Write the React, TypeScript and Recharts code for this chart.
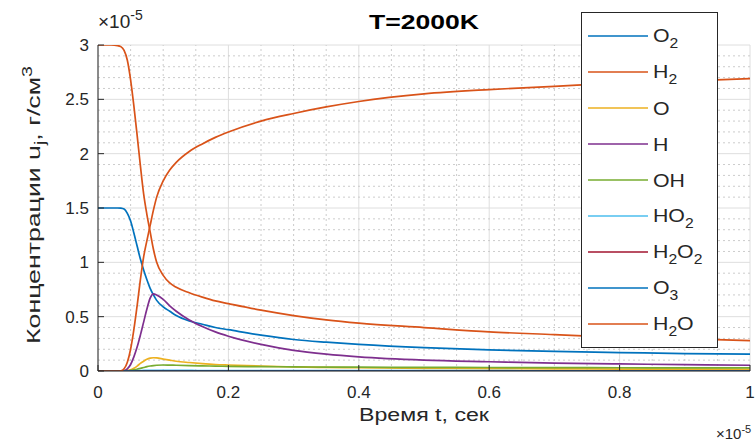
import React from 'react';
import { LineChart, Line, XAxis, YAxis, CartesianGrid, ReferenceLine, Legend } from 'recharts';

// Time, units of 1e-5 s
const time = [0, 0.01, 0.02, 0.03, 0.035, 0.04, 0.045, 0.05, 0.055, 0.06, 0.065, 0.07, 0.075, 0.08, 0.085, 0.09, 0.1, 0.11, 0.12, 0.14, 0.16, 0.18, 0.2, 0.25, 0.3, 0.35, 0.4, 0.5, 0.6, 0.7, 0.8, 0.9, 1.0];

// Concentrations, units of 1e-5 g/cm^3
const o2 = [1.5, 1.5, 1.5, 1.5, 1.498, 1.49, 1.45, 1.38, 1.27, 1.15, 1.03, 0.93, 0.84, 0.76, 0.7, 0.65, 0.59, 0.55, 0.51, 0.46, 0.43, 0.4, 0.38, 0.33, 0.29, 0.265, 0.245, 0.215, 0.195, 0.18, 0.17, 0.16, 0.155];
const h2 = [3.0, 3.0, 3.0, 2.995, 2.985, 2.95, 2.86, 2.68, 2.44, 2.17, 1.89, 1.63, 1.44, 1.28, 1.12, 1.0, 0.88, 0.81, 0.77, 0.72, 0.68, 0.645, 0.62, 0.56, 0.51, 0.47, 0.44, 0.4, 0.36, 0.335, 0.31, 0.295, 0.28];
const o = [0, 0, 0, 0, 0, 0, 0.003, 0.01, 0.025, 0.045, 0.07, 0.09, 0.108, 0.118, 0.122, 0.12, 0.11, 0.1, 0.09, 0.078, 0.068, 0.06, 0.055, 0.045, 0.038, 0.033, 0.03, 0.025, 0.022, 0.02, 0.018, 0.017, 0.016];
const h = [0, 0, 0, 0, 0, 0.003, 0.02, 0.06, 0.13, 0.22, 0.33, 0.45, 0.57, 0.67, 0.71, 0.7, 0.66, 0.6, 0.55, 0.47, 0.41, 0.36, 0.32, 0.245, 0.19, 0.155, 0.13, 0.1, 0.085, 0.072, 0.065, 0.058, 0.053];
const oh = [0, 0, 0, 0, 0, 0, 0.001, 0.005, 0.01, 0.016, 0.024, 0.032, 0.04, 0.046, 0.05, 0.053, 0.055, 0.054, 0.053, 0.05, 0.047, 0.045, 0.043, 0.04, 0.038, 0.036, 0.035, 0.033, 0.032, 0.031, 0.03, 0.029, 0.029];
const ho2 = [0, 0, 0, 0, 0, 0, 0, 0.001, 0.002, 0.003, 0.004, 0.005, 0.006, 0.006, 0.006, 0.006, 0.006, 0.005, 0.005, 0.005, 0.004, 0.004, 0.004, 0.004, 0.003, 0.003, 0.003, 0.003, 0.003, 0.002, 0.002, 0.002, 0.002];
const h2o2 = [0, 0, 0, 0, 0, 0, 0, 0, 0, 0.001, 0.001, 0.001, 0.001, 0.001, 0.001, 0.001, 0.001, 0.001, 0.001, 0.001, 0.001, 0.001, 0.001, 0.001, 0.001, 0.001, 0.001, 0.001, 0.001, 0.001, 0.001, 0.001, 0.001];
const o3 = [0, 0, 0, 0, 0, 0, 0, 0, 0, 0, 0, 0, 0, 0, 0, 0, 0, 0, 0, 0, 0, 0, 0, 0, 0, 0, 0, 0, 0, 0, 0, 0, 0];
const h2o = [0, 0, 0, 0, 0.002, 0.02, 0.08, 0.2, 0.38, 0.6, 0.84, 1.05, 1.2, 1.34, 1.48, 1.6, 1.75, 1.85, 1.92, 2.02, 2.09, 2.15, 2.2, 2.3, 2.37, 2.43, 2.48, 2.55, 2.59, 2.62, 2.65, 2.67, 2.69];

const seriesNames = ['O2', 'H2', 'O', 'H', 'OH', 'HO2', 'H2O2', 'O3', 'H2O'];
const seriesValues = [o2, h2, o, h, oh, ho2, h2o2, o3, h2o];
const seriesColors = ['#0072BD', '#D95319', '#EDB120', '#7E2F8E', '#77AC30', '#4DBEEE', '#A2142F', '#0072BD', '#D95319'];

const xTicks = [0, 0.2, 0.4, 0.6, 0.8, 1];
const yTicks = [0, 0.5, 1, 1.5, 2, 2.5, 3];
const xMinor = [0.05, 0.1, 0.15, 0.25, 0.3, 0.35, 0.45, 0.5, 0.55, 0.65, 0.7, 0.75, 0.85, 0.9, 0.95];
const yMinor = [0.1, 0.2, 0.3, 0.4, 0.6, 0.7, 0.8, 0.9, 1.1, 1.2, 1.3, 1.4, 1.6, 1.7, 1.8, 1.9, 2.1, 2.2, 2.3, 2.4, 2.6, 2.7, 2.8, 2.9];

const title = 'T=2000K';
const xLabel = 'Время t, сек';

const rows = time.map((t, i) => {
  const row: Record<string, number> = { t };
  seriesNames.forEach((name, k) => {
    row[name] = seriesValues[k][i];
  });
  return row;
});

const FONT = '"Liberation Sans", Arial, Helvetica, sans-serif';
const TEXT = '#262626';
const TICK_FS = 17;

// Plot frame (pixels inside the chart surface)
const W = 755;
const H = 444;
const M = { top: 45, right: 5, bottom: 43, left: 0 };
const Y_AXIS_W = 98;
const X_AXIS_H = 30;
const PLOT_L = M.left + Y_AXIS_W;
const PLOT_R = W - M.right;
const PLOT_T = M.top;
const PLOT_B = H - M.bottom - X_AXIS_H;

// Chemical formula with subscripted digits
const Formula = ({ text }: { text: string }) => {
  const parts = text.split(/(\d+)/).filter((p) => p.length > 0);
  return (
    <span style={{ display: 'inline-block', transform: 'scaleX(1.12)', transformOrigin: 'left center' }}>
      {parts.map((p, i) =>
        /\d/.test(p) ? (
          <span key={i} style={{ fontSize: 14, position: 'relative', top: 6 }}>{p}</span>
        ) : (
          <span key={i}>{p}</span>
        )
      )}
    </span>
  );
};

const fmt = (v: number) => String(v);

const XTick = (props: any) => {
  const { x, y, payload } = props;
  return (
    <g>
      <line x1={x} y1={y} x2={x} y2={y - 6} stroke={TEXT} strokeWidth={1} />
      <text x={x} y={y + 27} textAnchor="middle" fontSize={TICK_FS} fontFamily={FONT} fill={TEXT}>
        {fmt(payload.value)}
      </text>
    </g>
  );
};

const YTick = (props: any) => {
  const { x, y, payload } = props;
  return (
    <g>
      <line x1={x} y1={y} x2={x + 6} y2={y} stroke={TEXT} strokeWidth={1} />
      <text x={x - 9} y={y + 6} textAnchor="end" fontSize={TICK_FS} fontFamily={FONT} fill={TEXT}>
        {fmt(payload.value)}
      </text>
    </g>
  );
};

const LegendBox = () => (
  <div
    style={{
      width: 137,
      height: 336,
      boxSizing: 'border-box',
      border: '1.5px solid #262626',
      background: '#ffffff',
      paddingTop: 5,
      fontFamily: FONT,
      fontSize: 19,
      color: TEXT,
    }}
  >
    {seriesNames.map((name, i) => (
      <div key={name} style={{ height: 36, display: 'flex', alignItems: 'center', lineHeight: '19px' }}>
        <svg width={65} height={10} style={{ flex: 'none', marginLeft: 6 }}>
          <line x1={0} y1={5} x2={60} y2={5} stroke={seriesColors[i]} strokeWidth={1.6} />
        </svg>
        <Formula text={name} />
      </div>
    ))}
  </div>
);

export default function App() {
  return (
    <div style={{ position: 'absolute', left: 0, top: 0, background: '#ffffff' }}>
      <LineChart width={W} height={H} data={rows} margin={M}>
        <CartesianGrid stroke="#dedede" strokeWidth={1} />
        {xMinor.map((v) => (
          <ReferenceLine key={'vx' + v} x={v} stroke="#cccccc" strokeDasharray="2 3" strokeWidth={1} ifOverflow="hidden" />
        ))}
        {yMinor.map((v) => (
          <ReferenceLine key={'hy' + v} y={v} stroke="#cccccc" strokeDasharray="2 3" strokeWidth={1} ifOverflow="hidden" />
        ))}
        <XAxis
          dataKey="t"
          type="number"
          domain={[0, 1]}
          ticks={xTicks}
          height={X_AXIS_H}
          tickSize={0}
          tickMargin={0}
          tickLine={false}
          tick={<XTick />}
          axisLine={{ stroke: TEXT, strokeWidth: 1 }}
          allowDataOverflow
        />
        <YAxis
          type="number"
          domain={[0, 3]}
          ticks={yTicks}
          width={Y_AXIS_W}
          tickSize={0}
          tickMargin={0}
          tickLine={false}
          tick={<YTick />}
          axisLine={{ stroke: TEXT, strokeWidth: 1 }}
          allowDataOverflow
        />
        {seriesNames.map((name, k) => (
          <Line
            key={name}
            dataKey={name}
            name={name}
            type="monotone"
            stroke={seriesColors[k]}
            strokeWidth={1.7}
            dot={false}
            activeDot={false}
            isAnimationActive={false}
          />
        ))}
        <Legend
          layout="vertical"
          align="center"
          verticalAlign="middle"
          content={<LegendBox />}
          wrapperStyle={{ position: 'absolute', left: 581, top: 12, width: 137, height: 336 }}
        />
        <text
          x={(PLOT_L + PLOT_R) / 2}
          y={29}
          textAnchor="middle"
          fontSize={20}
          fontWeight="bold"
          fontFamily={FONT}
          fill="#000"
          textLength={110}
          lengthAdjust="spacingAndGlyphs"
        >
          {title}
        </text>
        <text x={PLOT_L} y={28} fontSize={19} fontFamily={FONT} fill={TEXT}>
          ×10<tspan fontSize={14} dy={-8}>-5</tspan>
        </text>
        <text
          x={(PLOT_L + PLOT_R) / 2}
          y={PLOT_B + 50}
          textAnchor="middle"
          fontSize={18}
          fontFamily={FONT}
          fill={TEXT}
          textLength={130}
          lengthAdjust="spacingAndGlyphs"
        >
          {xLabel}
        </text>
        <text x={PLOT_R - 34} y={H - 5} fontSize={15} fontFamily={FONT} fill={TEXT}>
          ×10<tspan fontSize={11} dy={-6}>-5</tspan>
        </text>
        <text
          transform={`translate(40, ${(PLOT_T + PLOT_B) / 2 - 3}) rotate(-90)`}
          textAnchor="middle"
          fontSize={19}
          fontFamily={FONT}
          fill={TEXT}
          textLength={278}
          lengthAdjust="spacingAndGlyphs"
        >
          Концентрации u<tspan fontSize={14} dy={5}>j</tspan>
          <tspan dy={-5}>, г/см</tspan>
          <tspan fontSize={14} dy={-8}>3</tspan>
        </text>
      </LineChart>
    </div>
  );
}
